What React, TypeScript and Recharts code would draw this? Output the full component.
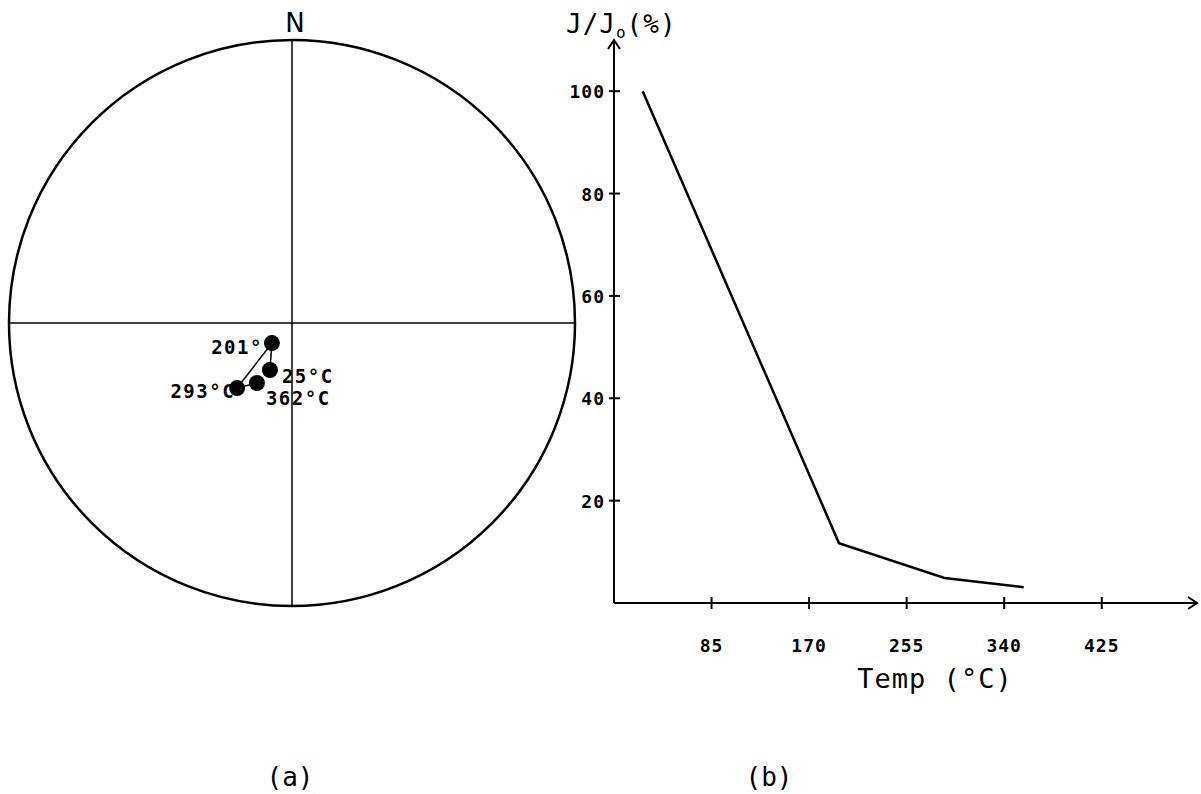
import React from "react"
import {
  ScatterChart,
  Scatter,
  LineChart,
  Line,
  XAxis,
  YAxis,
  ReferenceLine,
  ReferenceDot,
} from "recharts"

// (a) demagnetisation steps, projected on the unit net (x east, y north)
const stepLabels = ["25°C", "201°", "293°C", "362°C"]
const projX = [-0.078, -0.071, -0.194, -0.124]
const projY = [-0.166, -0.071, -0.23, -0.212]

// (b) remanence decay
const temps = [25, 196, 288, 357]
const ratio = [100, 11.7, 4.9, 3.1]
const xTicks = [85, 170, 255, 340, 425]
const yTicks = [20, 40, 60, 80, 100]

const MONO = "'DejaVu Sans Mono', monospace"

const netData = stepLabels.map((label, i) => ({ x: projX[i], y: projY[i], label }))
const decayData = temps.map((t, i) => ({ t, r: ratio[i] }))

// where each step label sits relative to its dot
const labelPlace = [
  { dx: 12, dy: 13, anchor: "start" },
  { dx: -9, dy: 11, anchor: "end" },
  { dx: -2, dy: 10, anchor: "end" },
  { dx: 9, dy: 22, anchor: "start" },
]

function StepDot(props: any) {
  const { cx, cy, index, payload } = props
  const p = labelPlace[index] || labelPlace[0]
  return (
    <g>
      <text
        x={cx + p.dx}
        y={cy + p.dy}
        textAnchor={p.anchor}
        fontFamily={MONO}
        fontSize={19}
        fontWeight="bold"
        letterSpacing={1.5}
        fill="#000"
      >
        {payload.label}
      </text>
      <circle cx={cx} cy={cy} r={8} fill="#000" />
    </g>
  )
}

function YTick(props: any) {
  const { x, y, payload } = props
  const ax = x + 9
  return (
    <g>
      <line x1={ax - 5} x2={ax + 6} y1={y} y2={y} stroke="#000" strokeWidth={2} />
      <text x={x} y={y} dy={7} textAnchor="end" fontFamily={MONO} fontSize={18} fontWeight="bold" letterSpacing={1} fill="#000">
        {payload.value}
      </text>
    </g>
  )
}

function XTick(props: any) {
  const { x, y, payload } = props
  const ay = y - 30
  return (
    <g>
      <line x1={x} x2={x} y1={ay - 6} y2={ay + 6} stroke="#000" strokeWidth={2} />
      <text x={x} y={y} dy={19} textAnchor="middle" fontFamily={MONO} fontSize={18} fontWeight="bold" letterSpacing={1} fill="#000">
        {payload.value}
      </text>
    </g>
  )
}

const ArrowRight = (props: any) => (
  <polyline
    points={`${props.cx - 9},${props.cy - 6} ${props.cx},${props.cy} ${props.cx - 9},${props.cy + 6}`}
    fill="none"
    stroke="#000"
    strokeWidth={2}
  />
)

const ArrowUp = (props: any) => (
  <polyline
    points={`${props.cx - 6},${props.cy + 9} ${props.cx},${props.cy} ${props.cx + 6},${props.cy + 9}`}
    fill="none"
    stroke="#000"
    strokeWidth={2}
  />
)

export default function App() {
  return (
    <div style={{ position: "absolute", left: 0, top: 0, width: 1201, height: 794, background: "#fff", overflow: "hidden" }}>
      <div style={{ position: "absolute", left: 0, top: 0 }}>
        <ScatterChart width={600} height={640} margin={{ top: 40, left: 9, right: 25, bottom: 34 }}>
          <XAxis type="number" dataKey="x" domain={[-1, 1]} hide />
          <YAxis type="number" dataKey="y" domain={[-1, 1]} hide />
          <ReferenceDot x={0} y={0} r={283} fill="none" stroke="#000" strokeWidth={2.5} ifOverflow="visible" />
          <ReferenceLine x={0} stroke="#000" strokeWidth={1.5} />
          <ReferenceLine y={0} stroke="#000" strokeWidth={1.5} />
          <Scatter
            data={netData}
            line={{ stroke: "#000", strokeWidth: 1.5 }}
            lineType="joint"
            shape={<StepDot />}
            isAnimationActive={false}
          />
        </ScatterChart>
      </div>

      <div style={{ position: "absolute", left: 540, top: 0 }}>
        <LineChart width={661} height={700} data={decayData} margin={{ top: 40, right: 4, left: 0, bottom: 0 }}>
          <XAxis
            type="number"
            dataKey="t"
            domain={[0, 508]}
            ticks={xTicks}
            interval={0}
            height={97}
            tickSize={0}
            tickMargin={30}
            tick={<XTick />}
            axisLine={{ stroke: "#000", strokeWidth: 2 }}
          />
          <YAxis
            type="number"
            domain={[0, 110]}
            ticks={yTicks}
            interval={0}
            width={74}
            tickSize={0}
            tickMargin={9}
            tick={<YTick />}
            axisLine={{ stroke: "#000", strokeWidth: 2 }}
          />
          <ReferenceDot x={508} y={0} r={0} shape={<ArrowRight />} ifOverflow="visible" />
          <ReferenceDot x={0} y={110} r={0} shape={<ArrowUp />} ifOverflow="visible" />
          <Line
            type="linear"
            dataKey="r"
            stroke="#000"
            strokeWidth={2.5}
            dot={false}
            isAnimationActive={false}
          />
        </LineChart>
      </div>

      <svg width={1201} height={794} style={{ position: "absolute", left: 0, top: 0, pointerEvents: "none" }}>
        <text x={295} y={32} textAnchor="middle" fontFamily="'DejaVu Sans', sans-serif" fontSize={26} fill="#000">
          N
        </text>
        <text x={566} y={33} fontFamily={MONO} fontSize={26} letterSpacing={1} fill="#000">
          J/J
          <tspan dy={5} fontSize={16}>o</tspan>
          <tspan dy={-5}>(%)</tspan>
        </text>
        <text x={935} y={688} textAnchor="middle" fontFamily={MONO} fontSize={27} letterSpacing={1} fill="#000">
          Temp (°C)
        </text>
        <text x={290} y={786} textAnchor="middle" fontFamily={MONO} fontSize={26} fill="#000">
          (a)
        </text>
        <text x={769} y={786} textAnchor="middle" fontFamily={MONO} fontSize={26} fill="#000">
          (b)
        </text>
      </svg>
    </div>
  )
}
